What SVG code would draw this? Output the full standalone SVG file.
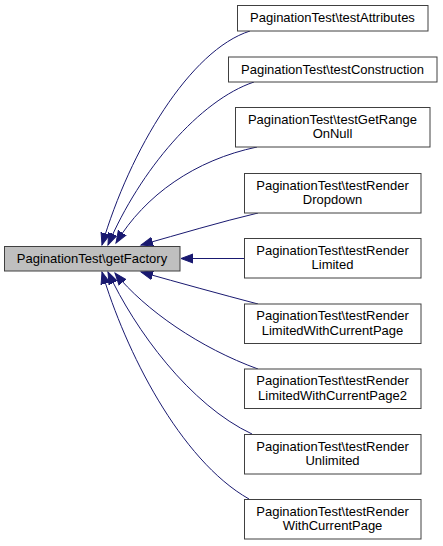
<svg xmlns="http://www.w3.org/2000/svg" width="443" height="546" viewBox="0 0 443 546">
<style>
.box{fill:#ffffff;stroke:#404040;stroke-width:1}
.main{fill:#bfbfbf;stroke:#404040;stroke-width:1}
text{font-family:"Liberation Sans",Arial,sans-serif;font-size:13px;fill:#000000;text-anchor:middle}
.edge{fill:none;stroke:#191970;stroke-width:1;marker-end:url(#arr)}
</style>
<defs>
<marker id="arr" markerUnits="userSpaceOnUse" markerWidth="14" markerHeight="12" refX="12" refY="5" orient="auto" viewBox="0 0 14 10">
<path d="M0,0.5 L12,5 L0,9.5 Z" fill="#191970" stroke="#191970"/>
</marker>
</defs>
<rect width="443" height="546" fill="#ffffff"/>
<g id="connectors">
<path class="edge" d="M250,31 C190,50 130,150 102,245"/>
<path class="edge" d="M254,82 C200,100 140,170 108,245"/>
<path class="edge" d="M257,147 C195,160 145,195 116,243"/>
<path class="edge" d="M258,213 C220,222 180,234 141,245"/>
<path class="edge" d="M244,258.5 L181,258.5"/>
<path class="edge" d="M258,304 C220,294 180,283 141,272"/>
<path class="edge" d="M258,369 C200,348 145,310 115,273"/>
<path class="edge" d="M252,434 C190,405 135,330 108,272"/>
<path class="edge" d="M249,499 C180,460 125,350 102,272"/>
</g>
<g id="getFactory">
<rect class="main" x="4.5" y="246.5" width="175.5" height="24.5"/>
<text x="92" y="262.5">PaginationTest\getFactory</text>
</g>
<g id="testAttributes">
<rect class="box" x="237.5" y="5.5" width="190.5" height="25.5"/>
<text x="332.5" y="21.8">PaginationTest\testAttributes</text>
</g>
<g id="testConstruction">
<rect class="box" x="228.5" y="57" width="208.5" height="25"/>
<text x="332.5" y="73.5">PaginationTest\testConstruction</text>
</g>
<g id="testGetRangeOnNull">
<rect class="box" x="235.5" y="107.5" width="194.5" height="39.5"/>
<text x="332.5" y="123.5">PaginationTest\testGetRange</text>
<text x="332.5" y="138">OnNull</text>
</g>
<g id="testRenderDropdown">
<rect class="box" x="244.5" y="173.5" width="176.5" height="39.5"/>
<text x="332.5" y="189.5">PaginationTest\testRender</text>
<text x="332.5" y="204">Dropdown</text>
</g>
<g id="testRenderLimited">
<rect class="box" x="244.5" y="238.5" width="176.5" height="39.5"/>
<text x="332.5" y="254.5">PaginationTest\testRender</text>
<text x="332.5" y="269">Limited</text>
</g>
<g id="testRenderLimitedWithCurrentPage">
<rect class="box" x="244.5" y="304" width="176.5" height="39.5"/>
<text x="332.5" y="320">PaginationTest\testRender</text>
<text x="332.5" y="334.5">LimitedWithCurrentPage</text>
</g>
<g id="testRenderLimitedWithCurrentPage2">
<rect class="box" x="244.5" y="369" width="176.5" height="39.5"/>
<text x="332.5" y="385">PaginationTest\testRender</text>
<text x="332.5" y="399.5">LimitedWithCurrentPage2</text>
</g>
<g id="testRenderUnlimited">
<rect class="box" x="244.5" y="434.5" width="176.5" height="39.5"/>
<text x="332.5" y="450.5">PaginationTest\testRender</text>
<text x="332.5" y="465">Unlimited</text>
</g>
<g id="testRenderWithCurrentPage">
<rect class="box" x="244.5" y="499.5" width="176.5" height="39.5"/>
<text x="332.5" y="515.5">PaginationTest\testRender</text>
<text x="332.5" y="530">WithCurrentPage</text>
</g>
</svg>
